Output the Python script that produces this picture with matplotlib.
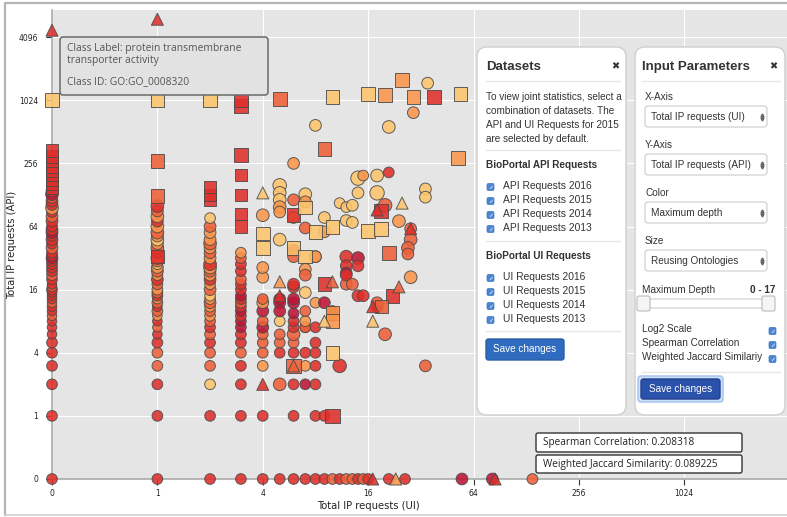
import numpy as np
import matplotlib.pyplot as plt
from matplotlib.patches import FancyBboxPatch
from matplotlib.colors import LinearSegmentedColormap, Normalize

# ---- data (UI requests on x, API requests on y, color = max depth, size = reusing ontologies)
# dense columns
c0_api = [0, 1, 2, 3, 4, 5, 6, 7, 8, 9, 10, 11, 12, 13, 14, 15, 16, 17, 18, 20, 22, 24,
          26, 28, 30, 32, 34, 36, 40, 44, 48, 52, 56, 60, 64, 72, 80, 88, 96, 104, 112, 120, 130, 140]
c0_dep = [12, 12, 12, 12, 12, 12, 12, 12, 12, 9, 12, 12, 9, 12, 12, 12, 12, 9, 12, 12, 9, 12,
          12, 12, 12, 16, 12, 12, 9, 12, 12, 12, 16, 12, 12, 12, 9, 12, 6, 12, 12, 9, 16, 12]
c0_reu = [2, 2, 2, 2, 2, 2, 1, 1, 1, 1, 1, 1, 1, 1, 1, 1, 2, 1, 1, 2, 2, 2,
          2, 2, 2, 3, 2, 2, 3, 2, 3, 2, 3, 3, 2, 3, 3, 2, 4, 3, 3, 2, 4, 3]

c1_api = [0, 1, 2, 3, 4, 5, 6, 7, 8, 9, 10, 11, 12, 13, 14, 15, 16, 18, 20, 22, 24, 26, 28, 30,
          32, 36, 40, 44, 48, 52, 56, 64, 72, 80, 90, 100]
c1_dep = [12, 12, 12, 9, 9, 12, 12, 9, 12, 6, 9, 12, 9, 6, 12, 9, 6, 9, 12, 6, 9, 6, 3, 9,
          6, 12, 9, 6, 3, 6, 9, 6, 12, 6, 9, 12]
c1_reu = [2, 2, 2, 2, 2, 2, 1, 1, 1, 1, 2, 1, 2, 1, 2, 2, 2, 2, 3, 2, 3, 3, 2, 3,
          4, 3, 4, 3, 4, 3, 4, 4, 3, 4, 3, 4]

c2_api = [0, 1, 2, 3, 4, 5, 6, 7, 8, 9, 10, 11, 12, 13, 14, 16, 18, 20, 22, 24, 26, 28, 32,
          36, 40, 44, 48, 56, 64, 77]
c2_dep = [12, 12, 3, 9, 9, 12, 9, 12, 9, 6, 9, 6, 9, 6, 3, 9, 6, 12, 6, 9, 6, 12, 6,
          9, 6, 9, 6, 6, 9, 3]
c2_reu = [2, 2, 2, 2, 2, 2, 2, 2, 2, 2, 2, 2, 3, 2, 2, 3, 2, 3, 3, 3, 4, 4, 3,
          3, 3, 4, 3, 3, 3, 2]

c3_api = [0, 1, 2, 3, 4, 5, 6, 7, 8, 9, 10, 11, 12, 13, 14, 16, 18, 20, 24, 28, 32, 36]
c3_dep = [12, 12, 12, 12, 9, 12, 12, 16, 16, 12, 16, 12, 9, 12, 16, 12, 12, 9, 12, 12, 9, 6]
c3_reu = [2, 2, 2, 2, 2, 2, 2, 2, 2, 2, 2, 2, 2, 2, 2, 2, 2, 2, 2, 2, 2, 2]

# scattered circles
sc_ui = [4, 4, 4, 4, 4, 4, 4, 4, 4, 4, 4, 4, 4, 4,
         5, 6, 7, 8, 9, 10, 11, 12, 13, 14, 15, 16, 21, 26, 55, 82, 139,
         6, 8, 9, 5, 6, 7, 8, 7, 8, 11, 34, 5, 6, 7, 8, 5, 6, 8, 5, 6, 7, 20, 6, 7, 8, 5, 6, 7,
         6, 7, 8, 6, 7, 5, 5, 5, 6, 6, 6, 10, 10, 12, 14, 15, 18, 18,
         28, 28, 27, 27, 28, 12, 14, 12, 14, 12, 12, 7, 7, 8, 6, 6, 5, 9, 7, 9, 6,
         7, 7, 5, 5, 5, 5, 5, 6, 6, 8, 21, 29, 35, 14, 15, 18, 21, 14, 18, 11, 12, 13,
         20, 12, 13, 24, 34, 34, 9, 13, 8]
sc_api = [0, 1, 3, 4, 5, 6, 7, 8, 10, 12, 13, 21, 26, 82,
          0, 0, 0, 0, 0, 0, 0, 0, 0, 0, 0, 0, 0, 0, 0, 0, 0,
          1, 1, 1, 2, 2, 2, 2, 3, 3, 3, 3, 4, 4, 4, 4, 5, 5, 5, 6, 6, 7, 6, 7, 7, 7, 8, 8, 8,
          9.5, 10, 12, 12, 15, 13, 12, 10, 13, 17, 18, 10, 9, 18, 14, 14, 11, 12,
          61, 48, 40, 35, 21, 33, 32, 27, 27, 23, 22, 25, 22, 33, 38, 33, 48, 57, 62, 78, 78,
          130, 110, 158, 134, 115, 98, 88, 115, 256, 590, 570, 780, 1490, 185, 196, 196, 210, 134, 134, 107, 98, 102,
          102, 73, 70, 72, 146, 122, 12, 18, 33]
sc_dep = [12, 12, 6, 9, 9, 9, 16, 9, 16, 6, 9, 6, 6, 6,
          12, 12, 12, 12, 12, 9, 12, 9, 9, 12, 9, 12, 12, 12, 16, 16, 9,
          12, 12, 12, 9, 12, 16, 12, 6, 12, 12, 9, 12, 12, 12, 12, 9, 9, 12, 9, 9, 12, 9, 12, 9, 12, 3, 12, 6,
          16, 9, 6, 16, 3, 16, 16, 16, 16, 12, 12, 12, 12, 9, 12, 12, 12, 9,
          9, 9, 9, 9, 6, 12, 16, 12, 12, 16, 12, 6, 9, 6, 16, 9, 3, 6, 9, 3, 3,
          3, 6, 3, 3, 3, 6, 6, 9, 6, 3, 3, 6, 3, 3, 6, 3, 12, 3, 3, 3, 3, 3,
          9, 3, 3, 6, 3, 3, 16, 9, 6]
sc_reu = [2, 2, 2, 2, 2, 2, 3, 2, 3, 3, 2, 3, 3, 4,
          2, 2, 2, 2, 2, 2, 2, 2, 2, 2, 2, 2, 2, 2, 3, 3, 2,
          2, 2, 2, 4, 2, 2, 2, 2, 2, 5, 3, 2, 2, 2, 2, 2, 2, 2, 2, 4, 2, 4, 2, 2, 2, 2, 2, 2,
          2, 2, 2, 3, 3, 3, 3, 3, 3, 3, 3, 2, 2, 3, 3, 3, 3, 3,
          3, 4, 4, 3, 4, 4, 4, 3, 3, 3, 3, 3, 3, 3, 3, 3, 4, 3, 3, 3, 3,
          4, 3, 5, 4, 4, 4, 3, 3, 3, 3, 4, 3, 3, 6, 2, 4, 2, 3, 6, 2, 2, 3,
          5, 3, 3, 4, 3, 3, 3, 3, 3]

# squares
sq_ui = [0, 0, 0, 0, 0, 0, 0, 0, 0, 0, 1, 1, 1, 1, 2, 2, 2, 2, 3, 3, 3, 3, 3, 3, 3,
         5, 10, 9, 16, 20, 25, 29, 38, 54, 52, 77, 4, 4, 6, 6, 7, 8, 7, 10, 16, 19, 21,
         10, 19, 9, 22, 19, 10, 10, 6, 10]
sq_api = [150, 165, 180, 200, 220, 240, 270, 300, 340, 1024, 33, 125, 270, 1024, 115, 128, 152, 1024,
          64, 84, 128, 198, 306, 900, 1024,
          1050, 1100, 350, 1180, 1150, 1600, 1100, 1100, 1170, 290, 1170, 55, 40, 82, 40, 97, 57, 33, 63, 58, 61, 36,
          1, 90, 18, 14, 11, 9.6, 8, 3, 4]
sq_dep = [12, 12, 12, 12, 12, 12, 12, 12, 12, 3, 12, 9, 9, 3, 12, 12, 12, 3,
          12, 12, 12, 12, 12, 12, 12,
          9, 3, 9, 3, 6, 6, 6, 12, 3, 6, 3, 3, 3, 12, 3, 3, 3, 3, 3, 3, 3, 9,
          12, 12, 12, 12, 9, 6, 6, 9, 3]
sq_reu = [2, 2, 2, 2, 2, 2, 2, 2, 2, 3, 2, 3, 3, 3, 2, 2, 2, 3,
          2, 2, 2, 2, 3, 3, 3,
          3, 3, 3, 3, 3, 3, 3, 3, 3, 3, 3, 3, 3, 3, 3, 3, 3, 3, 3, 3, 3, 3,
          4, 3, 3, 3, 2, 3, 3, 4, 3]

# triangles
tr_ui = [0, 1, 4, 4, 25, 18, 28, 10, 5, 5, 24, 17, 9, 17, 17, 23, 85, 6]
tr_api = [4770, 6070, 2, 134, 107, 92, 61, 19, 19, 14, 17, 11, 8, 8, 0, 0, 0, 3]
tr_dep = [12, 12, 12, 3, 3, 12, 12, 9, 6, 12, 9, 12, 3, 3, 12, 6, 12, 9]

x_ticks = [0, 1, 4, 16, 64, 256, 1024]
y_ticks = [0, 1, 4, 16, 64, 256, 1024, 4096]


def pos(v):
    v = np.asarray(v, dtype=float)
    return np.where(v > 0, np.log2(np.maximum(v, 1e-9)), -2.0)


cmap = LinearSegmentedColormap.from_list('depth', [
    (0.0, '#fed27a'), (3 / 17, '#fdc46c'), (6 / 17, '#f9964b'), (9 / 17, '#ef6039'),
    (12 / 17, '#df2f2a'), (16 / 17, '#bf1436'), (1.0, '#b01030')])
norm = Normalize(0, 17)

fig = plt.figure(figsize=(7.87, 5.17), dpi=100)
ax = fig.add_axes([52 / 787, 38 / 517, 735 / 787, 469 / 517])
ax.set_facecolor('#e5e5e5')
ax.set_xlim(-2, 11.95)
ax.set_ylim(-2, 12.86)
ax.set_xticks(pos(x_ticks))
ax.set_xticklabels([str(t) for t in x_ticks])
ax.set_yticks(pos(y_ticks))
ax.set_yticklabels([str(t) for t in y_ticks])
ax.grid(color='white', lw=0.8)
ax.set_axisbelow(True)
for s in ['top', 'right']:
    ax.spines[s].set_visible(False)
for s in ['left', 'bottom']:
    ax.spines[s].set_color('#aaaaaa')
    ax.spines[s].set_linewidth(1.2)
ax.tick_params(length=4, width=0.8, color='#333333', labelsize=5.5, pad=3, labelcolor='#222222')
ax.tick_params(axis='y', pad=6)
ax.set_xlabel('Total IP requests (UI)', fontsize=7.2, color='#222222')
ax.xaxis.set_label_coords(0.431, -0.047)
ax.set_ylabel('Total IP requests (API)', fontsize=7.2, color='#222222')
ax.yaxis.set_label_coords(-0.048, 0.5)

kw = dict(cmap=cmap, norm=norm, edgecolors='#4a4a4a', linewidths=0.7, alpha=0.88, clip_on=False, zorder=3)
cols = [(0, c0_api, c0_dep, c0_reu), (1, c1_api, c1_dep, c1_reu),
        (2, c2_api, c2_dep, c2_reu), (3, c3_api, c3_dep, c3_reu)]
for ui, api, dep, reu in cols:
    ax.scatter(pos(np.full(len(api), ui)), pos(api), c=dep, s=35 + 12 * np.array(reu), marker='o', **kw)
ax.scatter(pos(sc_ui), pos(sc_api), c=sc_dep, s=35 + 12 * np.array(sc_reu), marker='o', **kw)
ax.scatter(pos(sq_ui), pos(sq_api), c=sq_dep, s=60 + 12 * np.array(sq_reu), marker='s', **kw)
ax.scatter(pos(tr_ui), pos(tr_api), c=tr_dep, s=75, marker='^', **kw)

# ---- overlay in pixel coordinates
ov = fig.add_axes([0, 0, 1, 1], zorder=5)
ov.set_xlim(0, 787)
ov.set_ylim(517, 0)
ov.axis('off')
ov.patch.set_alpha(0)


def box(x0, y0, x1, y1, fc, ec, r=3, lw=1):
    ov.add_patch(FancyBboxPatch((x0, y0), x1 - x0, y1 - y0,
                                boxstyle='round,pad=0,rounding_size=%s' % r,
                                fc=fc, ec=ec, lw=lw))


def txt(x, y, s, size=7.2, **k):
    k.setdefault('color', '#333333')
    k.setdefault('va', 'center')
    k.setdefault('family', 'Liberation Sans')
    ov.text(x, y, s, fontsize=size, **k)


def check(x, y):
    box(x, y - 3.5, x + 7, y + 3.5, '#4a86d4', '#3b73c0', r=1.5, lw=0.5)
    ov.text(x + 3.5, y + 0.3, '\u2713', fontsize=4.5, color='white', ha='center', va='center',
            family='DejaVu Sans', fontweight='bold')


def hline(x0, x1, y):
    ov.plot([x0, x1], [y, y], color='#e6e6e6', lw=1)


# outer frame
ov.plot([5, 5, 790], [515, 3, 3], color='#b5b5b5', lw=1.6)
ov.plot([5, 790], [515, 515], color='#d0d0d0', lw=1.2)

# tooltip
box(60, 37, 268, 95, '#e2e2e2', '#6a6a6a', r=3, lw=1.1)
tip = dict(family='Open Sans', color='#555555', size=7.4)
txt(67, 49, 'Class Label: protein transmembrane', **tip)
txt(67, 61, 'transporter activity', **tip)
txt(67, 82, 'Class ID: GO:GO_0008320', **tip)

# stats boxes
box(536, 433, 742, 452, 'white', '#333333', r=2, lw=1)
box(536, 455, 742, 473, 'white', '#333333', r=2, lw=1)
txt(543, 443, 'Spearman Correlation: 0.208318', size=7.2, family='Open Sans', color='#222222')
txt(543, 464.5, 'Weighted Jaccard Similarity: 0.089225', size=7.2, family='Open Sans', color='#222222')

# Datasets panel
box(477, 47, 626, 415, 'white', '#cfcfcf', r=10, lw=1)
txt(486, 67, 'Datasets', size=9.5, fontweight='bold')
txt(615, 66, '\u2716', size=7, family='DejaVu Sans', ha='center')
hline(486, 620, 81)
para = ['To view joint statistics, select a', 'combination of datasets. The',
        'API and UI Requests for 2015', 'are selected by default.']
for i, line in enumerate(para):
    txt(486, 97 + 14 * i, line, size=7.2)
hline(486, 620, 150)
txt(486, 165, 'BioPortal API Requests', size=7.2, fontweight='bold')
for i, yr in enumerate(['2016', '2015', '2014', '2013']):
    check(487, 187 + 14 * i)
    txt(503, 186 + 14 * i, 'API Requests ' + yr, size=7.4)
hline(486, 620, 241)
txt(486, 256, 'BioPortal UI Requests', size=7.2, fontweight='bold')
for i, yr in enumerate(['2016', '2015', '2014', '2013']):
    check(487, 278 + 14 * i)
    txt(503, 277 + 14 * i, 'UI Requests ' + yr, size=7.4)
hline(486, 620, 331)
box(486, 339, 564, 360, '#2f6cc0', '#2a5ea8', r=2.5, lw=1)
txt(525, 349.5, 'Save changes', size=7.2, color='white', ha='center')

# Input Parameters panel
box(635, 47, 785, 415, 'white', '#cfcfcf', r=10, lw=1)
txt(642, 67, 'Input Parameters', size=9.5, fontweight='bold')
txt(773, 66, '\u2716', size=7, family='DejaVu Sans', ha='center')
hline(642, 780, 81)
selects = [('X-Axis', 'Total IP requests (UI)'), ('Y-Axis', 'Total IP requests (API)'),
           ('Color', 'Maximum depth'), ('Size', 'Reusing Ontologies')]
for i, (lab, val) in enumerate(selects):
    y0 = 97 + 48 * i
    txt(645, y0, lab, size=7.2)
    box(645, y0 + 9, 767, y0 + 30, 'white', '#cccccc', r=3, lw=0.8)
    txt(651, y0 + 20, val, size=7.2)
    ov.plot([762], [y0 + 18], marker='^', ms=2.2, color='#666666')
    ov.plot([762], [y0 + 22], marker='v', ms=2.2, color='#666666')
txt(642, 290, 'Maximum Depth', size=7.2)
txt(776, 290, '0 - 17', size=7.2, fontweight='bold', ha='right')
box(640, 299, 772, 308, 'white', '#cccccc', r=2, lw=0.8)
box(637, 296, 650, 311, '#f5f5f5', '#bbbbbb', r=2, lw=0.8)
box(762, 296, 775, 311, '#f5f5f5', '#bbbbbb', r=2, lw=0.8)
opts = ['Log2 Scale', 'Spearman Correlation', 'Weighted Jaccard Similariy']
for i, o in enumerate(opts):
    txt(642, 329 + 14 * i, o, size=7.2)
    check(769, 331 + 14 * i)
hline(642, 780, 372)
box(638, 376, 723, 402, '#cfe0f7', '#9fc1ee', r=3, lw=1)
box(641, 379, 720, 399, '#2b52aa', '#243f8c', r=2.5, lw=1)
txt(680.5, 389, 'Save changes', size=7.2, color='white', ha='center')

fig.savefig('out.png', dpi=100)
